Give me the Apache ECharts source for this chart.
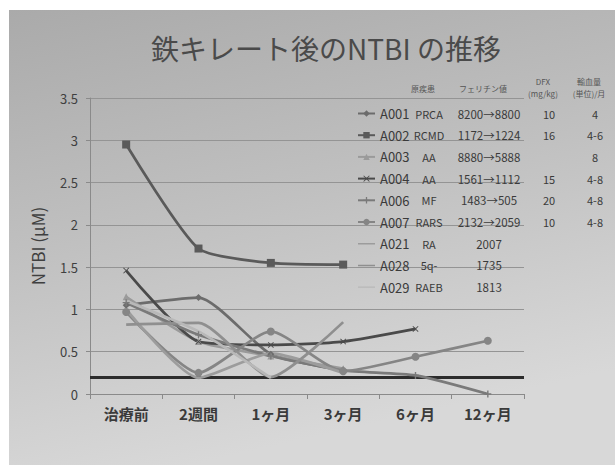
<!DOCTYPE html>
<html>
<head>
<meta charset="utf-8">
<script src="https://cdn.jsdelivr.net/npm/echarts@6/dist/echarts.min.js"></script>
<style>
  html, body { margin: 0; padding: 0; background: #fff; }
  #chart { width: 615px; height: 465px; }
</style>
</head>
<body>
<div id="chart"></div>
<script>
// Time points after starting iron chelation
const categories = ['治療前', '2週間', '1ヶ月', '3ヶ月', '6ヶ月', '12ヶ月'];

// NTBI (μM) per patient
const A001 = [1.05, 1.14, 0.47, 0.28, null, null];
const A002 = [2.95, 1.72, 1.55, 1.53, null, null];
const A003 = [1.15, 0.62, 0.45, 0.30, null, null];
const A004 = [1.46, 0.62, 0.58, 0.62, 0.77, null];
const A006 = [1.08, 0.70, 0.45, 0.28, 0.22, 0.00];
const A007 = [0.97, 0.25, 0.74, 0.27, 0.44, 0.63];
const A021 = [1.00, 0.19, 0.48, 0.25, null, null];
const A028 = [0.82, 0.84, 0.20, 0.85, null, null];
const A029 = [1.10, 0.74, 0.19, null, null, null];

// Reference level drawn across the plot
const thresholdLevel = 0.2;

// Patient table shown beside each legend entry
const patientIds = ['A001', 'A002', 'A003', 'A004', 'A006', 'A007', 'A021', 'A028', 'A029'];
const diseases   = ['PRCA', 'RCMD', 'AA', 'AA', 'MF', 'RARS', 'RA', '5q-', 'RAEB'];
const ferritin   = ['8200→8800', '1172→1224', '8880→5888', '1561→1112', '1483→505', '2132→2059', '2007', '1735', '1813'];
const dfxDose    = ['10', '16', '', '15', '20', '10', '', '', ''];
const transfusion = ['4', '4-6', '8', '4-8', '4-8', '4-8', '', '', ''];

const yTicks = { min: 0, max: 3.5, interval: 0.5 };

const seriesValues = [A001, A002, A003, A004, A006, A007, A021, A028, A029];

const FONT = "'Noto Sans CJK JP', 'Noto Sans', sans-serif";
const crossPath = 'path://M1,0L5,4L9,0L10,1L6,5L10,9L9,10L5,6L1,10L0,9L4,5L0,1Z';
const plusPath = 'path://M4,0H6V4H10V6H6V10H4V6H0V4H4Z';
// plain line used as the legend key of series drawn without markers
const plainLineIcon = 'path://M0,0L0.01,0L0,0.01Z M0,3.3H20V4.9H0Z M19.99,8L20,8L20,7.99Z';

const looks = [
  { color: '#6c6c6c', symbol: 'diamond',  size: 7 },
  { color: '#5a5a5a', symbol: 'rect',     size: 8 },
  { color: '#9a9a9a', symbol: 'triangle', size: 7 },
  { color: '#4a4a4a', symbol: crossPath,  size: 6 },
  { color: '#7a7a7a', symbol: plusPath,   size: 7 },
  { color: '#858585', symbol: 'circle',   size: 8 },
  { color: '#9c9c9c', symbol: 'none',     size: 0 },
  { color: '#8f8f8f', symbol: 'none',     size: 0 },
  { color: '#b8b8b8', symbol: 'none',     size: 0 }
];

const series = patientIds.map((id, i) => {
  const s = {
    name: id,
    type: 'line',
    data: seriesValues[i],
    smooth: 0.2,
    symbol: looks[i].symbol,
    symbolSize: looks[i].size,
    showSymbol: looks[i].symbol !== 'none',
    lineStyle: { color: looks[i].color, width: 2.7 },
    itemStyle: { color: looks[i].color },
    z: 3
  };
  if (i === 0) {
    s.markLine = {
      silent: true,
      symbol: 'none',
      label: { show: false },
      lineStyle: { color: '#2c2c2c', width: 3, type: 'solid' },
      data: [{ yAxis: thresholdLevel }],
      z: 2
    };
  }
  return s;
});

const legendData = patientIds.map((id, i) =>
  looks[i].symbol === 'none' ? { name: id, icon: plainLineIcon } : { name: id }
);

const chart = echarts.init(document.getElementById('chart'), null, { renderer: 'svg' });

const headerStyle = { fill: '#555', font: '8px ' + FONT, textAlign: 'center', textVerticalAlign: 'middle' };

chart.setOption({
  backgroundColor: '#ffffff',
  animation: false,
  textStyle: { fontFamily: FONT },
  graphic: [
    {
      type: 'rect', z: -10, silent: true,
      shape: { x: 9, y: 10, width: 606, height: 455 },
      style: {
        fill: new echarts.graphic.LinearGradient(0, 0, 0.3, 1, [
          { offset: 0, color: '#aaaaaa' },
          { offset: 0.5, color: '#c0c0c0' },
          { offset: 1, color: '#d8d8d8' }
        ])
      }
    },
    {
      type: 'text', x: 326, y: 48, z: 10,
      style: { text: '鉄キレート後のNTBI の推移', fill: '#4a4a4a', font: '28px ' + FONT, textAlign: 'center', textVerticalAlign: 'middle' }
    },
    { type: 'text', x: 423, y: 88, style: Object.assign({ text: '原疾患' }, headerStyle) },
    { type: 'text', x: 483, y: 88, style: Object.assign({ text: 'フェリチン値' }, headerStyle) },
    { type: 'text', x: 543, y: 81, style: Object.assign({ text: 'DFX' }, headerStyle) },
    { type: 'text', x: 543, y: 93, style: Object.assign({ text: '(mg/kg)' }, headerStyle) },
    { type: 'text', x: 589, y: 81, style: Object.assign({ text: '輸血量' }, headerStyle) },
    { type: 'text', x: 589, y: 93, style: Object.assign({ text: '(単位)/月' }, headerStyle) }
  ],
  grid: { left: 90, right: 91, top: 98, bottom: 71 },
  legend: {
    orient: 'vertical',
    left: 352,
    top: 102,
    itemWidth: 17,
    itemHeight: 8,
    itemGap: 8.7,
    data: legendData,
    formatter: function (name) {
      const i = patientIds.indexOf(name);
      return '{a|' + name + '}{b|' + diseases[i] + '}{c|' + ferritin[i] + '}{d|' + dfxDose[i] + '}{e|' + transfusion[i] + '}';
    },
    textStyle: {
      color: '#3a3a3a',
      rich: {
        a: { width: 30, fontSize: 13, lineHeight: 14, color: '#3a3a3a', fontFamily: FONT },
        b: { width: 38, fontSize: 11, lineHeight: 14, align: 'center', color: '#3a3a3a', fontFamily: FONT },
        c: { width: 82, fontSize: 11.5, lineHeight: 14, align: 'center', color: '#3a3a3a', fontFamily: FONT },
        d: { width: 38, fontSize: 11, lineHeight: 14, align: 'center', color: '#3a3a3a', fontFamily: FONT },
        e: { width: 54, fontSize: 11, lineHeight: 14, align: 'center', color: '#3a3a3a', fontFamily: FONT }
      }
    }
  },
  xAxis: {
    type: 'category',
    data: categories,
    boundaryGap: true,
    axisLine: { lineStyle: { color: '#8a8a8a', width: 1 } },
    axisTick: { show: true, length: 5, lineStyle: { color: '#8a8a8a' } },
    axisLabel: { color: '#3a3a3a', fontSize: 15, fontWeight: 'bold', margin: 12, fontFamily: FONT }
  },
  yAxis: {
    type: 'value',
    min: yTicks.min,
    max: yTicks.max,
    interval: yTicks.interval,
    name: 'NTBI (μM)',
    nameLocation: 'middle',
    nameGap: 44,
    nameRotate: 90,
    nameTextStyle: { color: '#3f3f3f', fontSize: 17, fontFamily: FONT },
    axisLine: { show: true, lineStyle: { color: '#8a8a8a', width: 1 } },
    axisTick: { show: true, length: 4, lineStyle: { color: '#8a8a8a' } },
    axisLabel: { color: '#3f3f3f', fontSize: 13, margin: 12, fontFamily: FONT },
    splitLine: { lineStyle: { color: '#949494', width: 1 } }
  },
  series: series
});
</script>
</body>
</html>
